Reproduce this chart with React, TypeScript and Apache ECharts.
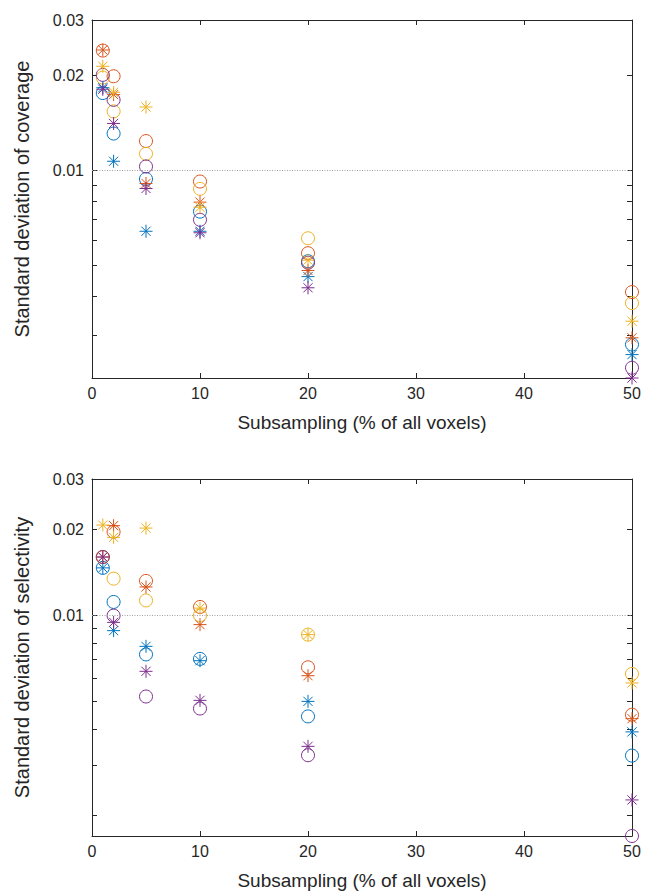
import React, { useEffect, useRef } from 'react';
import * as echarts from 'echarts';

// Subsampling levels (% of all voxels)
const xValues = [1, 2, 5, 10, 20, 50];

// Standard deviation of coverage
const covBlueCircle = [0.0176, 0.0131, 0.0094, 0.00741, 0.00516, 0.00281];
const covBlueStar = [0.0183, 0.0107, 0.00642, 0.00642, 0.00461, 0.00261];
const covRedCircle = [0.024, 0.0199, 0.0124, 0.00923, 0.00547, 0.00412];
const covRedStar = [0.0241, 0.0174, 0.0091, 0.00794, 0.00482, 0.00295];
const covYellowCircle = [0.0197, 0.0154, 0.0113, 0.00875, 0.0061, 0.0038];
const covYellowStar = [0.0214, 0.0177, 0.0159, 0.00765, 0.0052, 0.00333];
const covPurpleCircle = [0.0201, 0.01675, 0.0103, 0.00698, 0.0051, 0.00237];
const covPurpleStar = [0.0181, 0.0141, 0.00877, 0.00635, 0.00425, 0.0022];

// Standard deviation of selectivity
const selBlueCircle = [0.01466, 0.01114, 0.0073, 0.00704, 0.00443, 0.00323];
const selBlueStar = [0.01466, 0.00884, 0.00779, 0.00694, 0.005, 0.00391];
const selRedCircle = [0.016, 0.0196, 0.0132, 0.0107, 0.00658, 0.00449];
const selRedStar = [0.016, 0.0206, 0.01257, 0.00928, 0.00615, 0.00435];
const selYellowCircle = [0.016, 0.01344, 0.01128, 0.01, 0.00856, 0.00624];
const selYellowStar = [0.0207, 0.01875, 0.0202, 0.0106, 0.00856, 0.0058];
const selPurpleCircle = [0.016, 0.00998, 0.0052, 0.00472, 0.00324, 0.00169];
const selPurpleStar = [0.016, 0.00945, 0.00637, 0.00504, 0.00348, 0.00226];

// Axis ticks / labels
const xTicks = [0, 10, 20, 30, 40, 50];
const yLabelValues = [0.01, 0.02, 0.03];
const covTickValues = [0.003, 0.004, 0.005, 0.006, 0.007, 0.008, 0.009, 0.01, 0.02, 0.03];
const selTickValues = [0.002, 0.003, 0.004, 0.005, 0.006, 0.007, 0.008, 0.009, 0.01, 0.02, 0.03];
const covRange = [0.0022, 0.03];
const selRange = [0.00169, 0.03];
const refLineValue = 0.01;

const BLUE = '#0072BD';
const RED = '#D95319';
const YELLOW = '#EDB120';
const PURPLE = '#7E2F8E';
const TEXT = '#262626';
const FONT = "'Liberation Sans', Arial, Helvetica, sans-serif";
const STAR = 'path://M0,6H12M6,0V12M1.76,1.76L10.24,10.24M10.24,1.76L1.76,10.24';

const lg = (v: number) => Math.log10(v);

function makeSeries(gridIdx: number, list: { vals: number[]; color: string; star: boolean }[]) {
  return list.map((s, k) => {
    const base: any = {
      type: 'scatter',
      xAxisIndex: gridIdx * 2,
      yAxisIndex: gridIdx * 2,
      data: xValues.map((x, i) => [x, lg(s.vals[i])]),
      symbol: s.star ? STAR : 'circle',
      symbolSize: 13,
      itemStyle: {
        color: 'transparent',
        borderColor: s.color,
        borderWidth: 1,
        opacity: 1,
      },
      emphasis: { disabled: true },
      silent: true,
    };
    if (k === 0) {
      base.markLine = {
        silent: true,
        symbol: ['none', 'none'],
        label: { show: false },
        lineStyle: { color: '#a0a0a0', type: [1, 1.5], width: 1 },
        data: [{ yAxis: lg(refLineValue) }],
      };
    }
    return base;
  });
}

function yAxes(gridIdx: number, name: string, range: number[], ticks: number[]) {
  const common = {
    type: 'value',
    gridIndex: gridIdx,
    min: lg(range[0]),
    max: lg(range[1]),
    splitLine: { show: false },
    axisLine: { show: true, onZero: false, lineStyle: { color: TEXT, width: 1 } },
    axisTick: {
      show: true,
      inside: true,
      length: 5,
      customValues: ticks.map(lg),
      lineStyle: { color: TEXT, width: 1 },
    },
  };
  return [
    {
      ...common,
      position: 'left',
      name,
      nameLocation: 'middle',
      nameGap: 60,
      nameTextStyle: { color: TEXT, fontSize: 20, fontFamily: FONT },
      axisLabel: {
        show: true,
        customValues: yLabelValues.map(lg),
        formatter: (v: number) => String(Math.round(Math.pow(10, v) * 1000) / 1000),
        color: TEXT,
        fontSize: 16,
        fontFamily: FONT,
        margin: 8,
      },
    },
    {
      ...common,
      position: 'right',
      axisLabel: { show: false },
    },
  ];
}

function xAxes(gridIdx: number) {
  const common = {
    type: 'value',
    gridIndex: gridIdx,
    min: xTicks[0],
    max: xTicks[xTicks.length - 1],
    interval: 10,
    splitLine: { show: false },
    axisLine: { show: true, onZero: false, lineStyle: { color: TEXT, width: 1 } },
    axisTick: { show: true, inside: true, length: 5, lineStyle: { color: TEXT, width: 1 } },
  };
  return [
    {
      ...common,
      position: 'bottom',
      name: 'Subsampling (% of all voxels)',
      nameLocation: 'middle',
      nameGap: 35,
      nameTextStyle: { color: TEXT, fontSize: 19, fontFamily: FONT },
      axisLabel: { color: TEXT, fontSize: 16, fontFamily: FONT, margin: 7 },
    },
    {
      ...common,
      position: 'top',
      axisLabel: { show: false },
    },
  ];
}

export default function App() {
  const ref = useRef<HTMLDivElement>(null);
  useEffect(() => {
    if (!ref.current) return;
    const chart = echarts.init(ref.current, null, { renderer: 'svg' });
    const option: any = {
      animation: false,
      backgroundColor: '#ffffff',
      grid: [
        { left: 92, top: 20, width: 540, height: 358, containLabel: false },
        { left: 92, top: 479, width: 540, height: 357, containLabel: false },
      ],
      xAxis: [...xAxes(0), ...xAxes(1)],
      yAxis: [
        ...yAxes(0, 'Standard deviation of coverage', covRange, covTickValues),
        ...yAxes(1, 'Standard deviation of selectivity', selRange, selTickValues),
      ],
      series: [
        ...makeSeries(0, [
          { vals: covBlueCircle, color: BLUE, star: false },
          { vals: covRedCircle, color: RED, star: false },
          { vals: covYellowCircle, color: YELLOW, star: false },
          { vals: covPurpleCircle, color: PURPLE, star: false },
          { vals: covBlueStar, color: BLUE, star: true },
          { vals: covRedStar, color: RED, star: true },
          { vals: covYellowStar, color: YELLOW, star: true },
          { vals: covPurpleStar, color: PURPLE, star: true },
        ]),
        ...makeSeries(1, [
          { vals: selBlueCircle, color: BLUE, star: false },
          { vals: selRedCircle, color: RED, star: false },
          { vals: selYellowCircle, color: YELLOW, star: false },
          { vals: selPurpleCircle, color: PURPLE, star: false },
          { vals: selBlueStar, color: BLUE, star: true },
          { vals: selRedStar, color: RED, star: true },
          { vals: selYellowStar, color: YELLOW, star: true },
          { vals: selPurpleStar, color: PURPLE, star: true },
        ]),
      ],
    };
    chart.setOption(option);
    return () => chart.dispose();
  }, []);
  return (
    <div
      ref={ref}
      style={{ position: 'fixed', left: 0, top: 0, width: 646, height: 895, background: '#fff' }}
    />
  );
}
